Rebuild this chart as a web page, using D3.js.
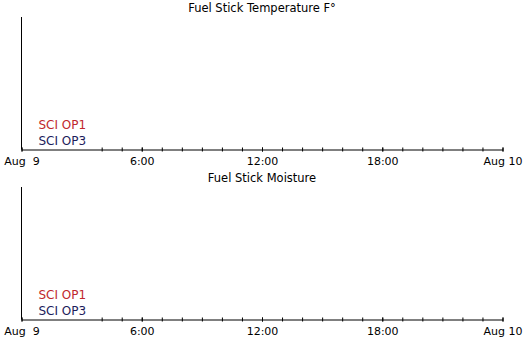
<!DOCTYPE html>
<html>
<head>
<meta charset="utf-8">
<script src="https://cdn.jsdelivr.net/npm/d3@7"></script>
<style>
  html, body { margin: 0; padding: 0; background: #fff; }
  svg text { font-family: "DejaVu Sans", Verdana, sans-serif; font-size: 11px; white-space: pre; }
</style>
</head>
<body>
<svg id="chart" width="525" height="340"></svg>
<script>
// panels and series (no readings reported for the day)
const panelTitles = ['Fuel Stick Temperature F°', 'Fuel Stick Moisture']
const seriesNames = ['SCI OP1', 'SCI OP3']
const seriesColors = ['#c0272d', '#1c1c5c']
const seriesOP1 = []
const seriesOP3 = []
const dayStart = new Date(2020, 7, 9, 0)
const dayEnd = new Date(2020, 7, 10, 0)

const panelHeight = 170
const margin = { top: 17, right: 23, bottom: 21, left: 21 }
const width = 525 - margin.left - margin.right
const height = panelHeight - margin.top - margin.bottom

const svg = d3.select('#chart')

const x = d3.scaleTime().domain([dayStart, dayEnd]).range([0, width])
const y = d3.scaleLinear().domain([0, 1]).range([height, 0])

const fmt = d => (d.getHours() === 0 ? d3.timeFormat('%b %e')(d) : d3.timeFormat('%-H:%M')(d))

panelTitles.forEach((title, p) => {
  const g = svg.append('g')
    .attr('transform', `translate(${margin.left + 0.5},${p * panelHeight + margin.top})`)

  g.append('text')
    .attr('x', width / 2)
    .attr('y', -5)
    .attr('text-anchor', 'middle')
    .attr('fill', '#000')
    .style('font-size', '11.5px')
    .text(title)

  const line = d3.line().x(d => x(d.t)).y(d => y(d.v))
  ;[seriesOP1, seriesOP3].forEach((s, i) => {
    g.append('path').datum(s).attr('d', line).attr('fill', 'none').attr('stroke', seriesColors[i])
  })

  const legend = g.append('g')
  legend.selectAll('text')
    .data(seriesNames)
    .join('text')
    .attr('x', 17)
    .attr('y', (d, i) => height - 20 + i * 16)
    .attr('fill', (d, i) => seriesColors[i])
    .style('font-size', '12px')
    .text(d => d)
  const lb = legend.node().getBBox()

  // minor hourly ticks, hidden behind the legend box
  const minor = g.append('g')
    .attr('transform', `translate(0,${height + 0.5})`)
    .call(d3.axisBottom(x).ticks(d3.timeHour.every(1)).tickSize(2).tickFormat(''))
  minor.select('.domain').remove()
  minor.selectAll('.tick').filter(d => x(d) > 0 && x(d) < lb.x + lb.width + 5).remove()
  minor.selectAll('line').attr('y1', -2).attr('stroke', '#000')

  // major ticks every 6h
  const xAxis = g.append('g')
    .attr('transform', `translate(0,${height + 0.5})`)
    .call(d3.axisBottom(x).ticks(d3.timeHour.every(6)).tickSize(2).tickSizeOuter(0).tickPadding(6).tickFormat(fmt))
  xAxis.select('.domain').attr('stroke', '#000')
  xAxis.selectAll('line').attr('y1', -2).attr('stroke', '#000')
  xAxis.selectAll('text')
    .style('font-family', '"DejaVu Sans", Verdana, sans-serif')
    .style('font-size', '11px')
    .attr('fill', '#000')

  g.append('line')
    .attr('x1', 0).attr('x2', 0)
    .attr('y1', 0).attr('y2', height + 0.5)
    .attr('stroke', '#000')
})
</script>
</body>
</html>
